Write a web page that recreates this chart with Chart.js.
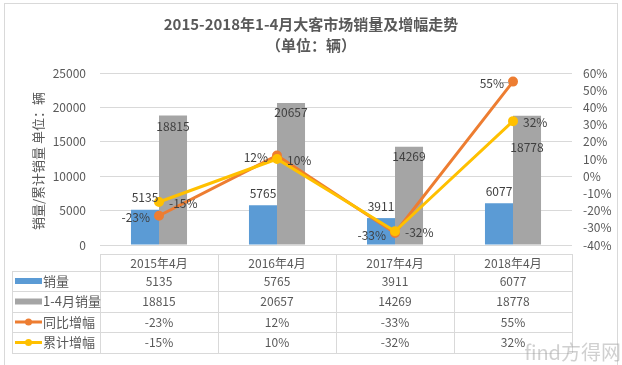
<!DOCTYPE html>
<html>
<head>
<meta charset="utf-8">
<script src="https://cdn.jsdelivr.net/npm/chart.js@4"></script>
<style>
  html, body { margin: 0; padding: 0; background: #fff; }
  #wrap { width: 622px; height: 365px; position: relative; }
</style>
</head>
<body>
<div id="wrap"><canvas id="chart1" width="622" height="365"></canvas></div>
<script>
// Chart Data
const categories = ['2015年4月', '2016年4月', '2017年4月', '2018年4月'];
const sales = [5135, 5765, 3911, 6077];
const cumSales = [18815, 20657, 14269, 18778];
const yoyGrowth = [-23, 12, -33, 55];
const cumGrowth = [-15, 10, -32, 32];
const seriesNames = ['销量', '1-4月销量', '同比增幅', '累计增幅'];

const FONT = '"Noto Sans CJK SC", "Noto Sans", sans-serif';
const TEXT = '#595959';
const LINE = '#d9d9d9';
const colors = ['#5b9bd5', '#a5a5a5', '#ed7d31', '#ffc000'];

const pct = v => v + '%';

// title, axis title, data labels and the data table under the plot
const extras = {
    id: 'extras',
    afterDatasetsDraw(chart) {
        const c = chart.ctx;
        c.save();
        c.font = '12px ' + FONT;
        c.fillStyle = '#404040';
        c.textBaseline = 'middle';

        // bar labels
        const m0 = chart.getDatasetMeta(0);
        const m1 = chart.getDatasetMeta(1);
        c.textAlign = 'center';
        m0.data.forEach((b, i) => c.fillText(sales[i], b.x, b.y - 12));
        const grayShift = [11, 10, 10, 32];
        m1.data.forEach((b, i) => c.fillText(cumSales[i], b.x, b.y + grayShift[i]));

        // line labels
        const m2 = chart.getDatasetMeta(2);
        const m3 = chart.getDatasetMeta(3);
        c.textAlign = 'right';
        m2.data.forEach((p, i) => c.fillText(pct(yoyGrowth[i]), p.x - 9, p.y + 2));
        c.textAlign = 'left';
        m3.data.forEach((p, i) => c.fillText(pct(cumGrowth[i]), p.x + 10, p.y + 1));
        // leader line for last yoy label
        const lp = m2.data[3];
        c.strokeStyle = '#a6a6a6';
        c.lineWidth = 1;
        c.beginPath();
        c.moveTo(lp.x - 14, lp.y + 1);
        c.lineTo(lp.x - 4, lp.y + 1);
        c.stroke();
        c.restore();
    },
    afterDraw(chart) {
        const c = chart.ctx;
        const area = chart.chartArea;
        const xs = chart.scales.x;
        c.save();

        // outer frame
        c.strokeStyle = LINE;
        c.lineWidth = 1;
        c.strokeRect(4.5, 3.5, 613, 370);

        // title
        c.fillStyle = TEXT;
        c.textAlign = 'center';
        c.textBaseline = 'middle';
        c.font = 'bold 15px ' + FONT;
        c.fillText('2015-2018年1-4月大客市场销量及增幅走势', 311, 24);
        c.fillText('（单位：辆）', 311, 45);

        // left axis title
        c.save();
        c.translate(38, 161);
        c.rotate(-Math.PI / 2);
        c.font = '13px ' + FONT;
        c.fillText('销量/累计销量 单位：辆', 0, 0);
        c.restore();

        // data table
        const colW = (area.right - area.left) / categories.length;
        const rows = [254, 271, 291, 312, 332, 353];
        const left = 12;
        c.strokeStyle = LINE;
        c.beginPath();
        rows.forEach((y, r) => {
            c.moveTo(r === 0 ? area.left : left, y + 0.5);
            c.lineTo(area.right, y + 0.5);
        });
        c.moveTo(left + 0.5, rows[1]);
        c.lineTo(left + 0.5, rows[5]);
        for (let i = 0; i <= categories.length; i++) {
            const x = Math.round(area.left + colW * i) + 0.5;
            c.moveTo(x, rows[0]);
            c.lineTo(x, rows[5]);
        }
        c.stroke();

        c.fillStyle = TEXT;
        c.font = '12px ' + FONT;
        c.textAlign = 'center';
        categories.forEach((cat, i) => {
            const x = xs.getPixelForValue(i);
            c.fillText(cat, x, (rows[0] + rows[1]) / 2 + 1);
            c.fillText(sales[i], x, (rows[1] + rows[2]) / 2);
            c.fillText(cumSales[i], x, (rows[2] + rows[3]) / 2);
            c.fillText(pct(yoyGrowth[i]), x, (rows[3] + rows[4]) / 2);
            c.fillText(pct(cumGrowth[i]), x, (rows[4] + rows[5]) / 2);
        });

        // legend keys in first column
        c.textAlign = 'left';
        c.font = '13px ' + FONT;
        seriesNames.forEach((name, r) => {
            const cy = (rows[r + 1] + rows[r + 2]) / 2;
            if (r < 2) {
                c.fillStyle = colors[r];
                c.fillRect(15, cy - 3, 27, 6);
            } else {
                c.strokeStyle = colors[r];
                c.lineWidth = 3;
                c.beginPath();
                c.moveTo(15, cy);
                c.lineTo(42, cy);
                c.stroke();
                c.fillStyle = colors[r];
                c.beginPath();
                c.arc(28.5, cy, 3.5, 0, Math.PI * 2);
                c.fill();
            }
            c.fillStyle = TEXT;
            c.fillText(name, 43, cy);
        });

        // watermark
        c.fillStyle = 'rgba(150,150,150,0.45)';
        c.font = '20px ' + FONT;
        c.textAlign = 'right';
        c.fillText('find方得网', 621, 352);
        c.restore();
    }
};

const ctx = document.getElementById('chart1').getContext('2d');
const chart1 = new Chart(ctx, {
    type: 'bar',
    data: {
        labels: categories,
        datasets: [
            {
                label: seriesNames[0],
                data: sales,
                backgroundColor: colors[0],
                yAxisID: 'y',
                order: 3,
            },
            {
                label: seriesNames[1],
                data: cumSales,
                backgroundColor: colors[1],
                yAxisID: 'y',
                order: 4,
            },
            {
                type: 'line',
                label: seriesNames[2],
                data: yoyGrowth,
                borderColor: colors[2],
                backgroundColor: colors[2],
                borderWidth: 3,
                pointRadius: 3.5,
                tension: 0,
                yAxisID: 'y1',
                order: 2,
            },
            {
                type: 'line',
                label: seriesNames[3],
                data: cumGrowth,
                borderColor: colors[3],
                backgroundColor: colors[3],
                borderWidth: 3,
                pointRadius: 3.5,
                tension: 0,
                yAxisID: 'y1',
                order: 1,
            }
        ],
    },
    options: {
        responsive: false,
        animation: false,
        devicePixelRatio: 1,
        categoryPercentage: 0.475,
        barPercentage: 1,
        layout: {
            padding: { top: 73, bottom: 120, left: 0, right: 0 },
        },
        plugins: {
            legend: { display: false },
            tooltip: { enabled: false },
        },
        scales: {
            x: {
                display: false,
                offset: true,
            },
            y: {
                position: 'left',
                min: 0,
                max: 25000,
                ticks: {
                    stepSize: 5000,
                    padding: 14,
                    color: TEXT,
                    font: { size: 12, family: FONT },
                    callback: v => String(v),
                },
                grid: { color: LINE, drawTicks: false },
                border: { display: false },
                afterFit: s => { s.width = 100; },
            },
            y1: {
                position: 'right',
                min: -40,
                max: 60,
                ticks: {
                    stepSize: 10,
                    autoSkip: false,
                    padding: 11,
                    color: TEXT,
                    font: { size: 12, family: FONT },
                    callback: v => pct(v),
                },
                grid: { display: false, drawTicks: false },
                border: { display: false },
                afterFit: s => { s.width = 50; },
            },
        },
    },
    plugins: [extras],
});
</script>
</body>
</html>
